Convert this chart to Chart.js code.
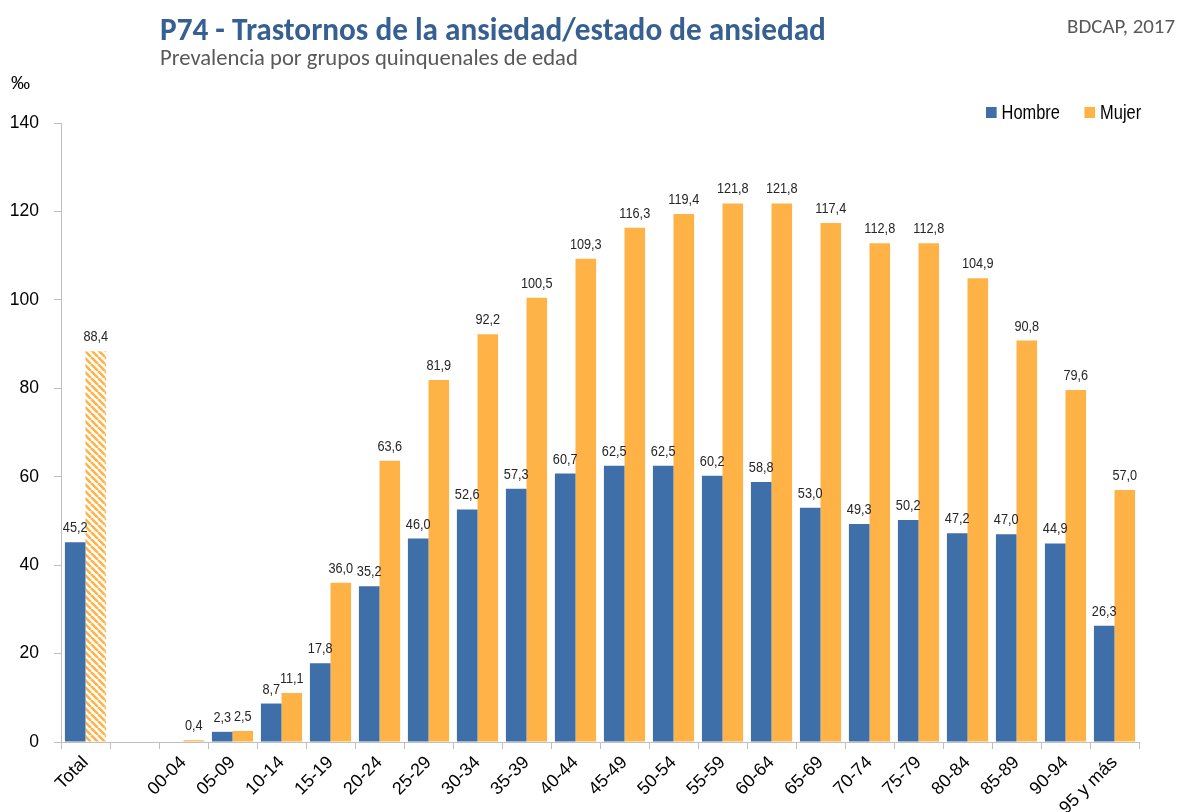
<!DOCTYPE html>
<html>
<head>
<meta charset="utf-8">
<script src="https://cdn.jsdelivr.net/npm/chart.js@4.4.1/dist/chart.umd.min.js"></script>
<style>
  html, body { margin: 0; padding: 0; background: #ffffff; }
  #wrap { position: relative; width: 1178px; height: 812px; overflow: hidden; }
  #c { position: absolute; left: 0; top: 0; }
  .txt { position: absolute; white-space: nowrap; line-height: 1; }
  #title { left: 160px; top: 14px; font-family: Carlito, Lato, "Open Sans", sans-serif; font-weight: bold; color: #376092; font-size: 30px; }
  #subtitle { left: 160px; top: 46px; font-family: Carlito, Lato, "Open Sans", sans-serif; color: #595959; font-size: 20px; }
  #source { right: 3px; top: 16px; font-family: Carlito, "Open Sans", sans-serif; color: #595959; font-size: 19px; }
  #unit { left: 11px; top: 73px; font-family: "Liberation Sans", Arial, sans-serif; color: #000; font-size: 19px; }
  #legend { position: absolute; left: 986px; top: 101px; font-family: "Liberation Sans", Arial, sans-serif; font-size: 20px; color: #000; display: flex; align-items: center; transform: scaleX(0.82); transform-origin: left center; }
  .sw { display: inline-block; width: 13px; height: 11px; margin-right: 6px; }
  .item { display: flex; align-items: center; margin-right: 30px; }
</style>
</head>
<body>
<div id="wrap">
  <canvas id="c" width="1178" height="812"></canvas>
  <div class="txt" id="title" data-w="666">P74 - Trastornos de la ansiedad/estado de ansiedad</div>
  <div class="txt" id="subtitle" data-w="418">Prevalencia por grupos quinquenales de edad</div>
  <div class="txt" id="source" data-w="108">BDCAP, 2017</div>
  <div class="txt" id="unit">‰</div>
  <div id="legend">
    <div class="item"><span class="sw" style="background:#3F6FA8"></span><span>Hombre</span></div>
    <div class="item" style="margin-right:0"><span class="sw" style="background:#FFB347"></span><span>Mujer</span></div>
  </div>
</div>
<script>
// ---- Data ----
const categories = ["Total", "", "00-04", "05-09", "10-14", "15-19", "20-24", "25-29", "30-34", "35-39", "40-44", "45-49", "50-54", "55-59", "60-64", "65-69", "70-74", "75-79", "80-84", "85-89", "90-94", "95 y más"];
const hombre = [45.2, null, null, 2.3, 8.7, 17.8, 35.2, 46.0, 52.6, 57.3, 60.7, 62.5, 62.5, 60.2, 58.8, 53.0, 49.3, 50.2, 47.2, 47.0, 44.9, 26.3];
const mujer  = [88.4, null, 0.4, 2.5, 11.1, 36.0, 63.6, 81.9, 92.2, 100.5, 109.3, 116.3, 119.4, 121.8, 121.8, 117.4, 112.8, 112.8, 104.9, 90.8, 79.6, 57.0];
const seriesNames = ["Hombre", "Mujer"];
const yTicks = { min: 0, max: 140, step: 20 };

// fit header texts to measured widths
document.querySelectorAll('[data-w]').forEach(el => {
  const target = parseFloat(el.dataset.w);
  let fs = parseFloat(getComputedStyle(el).fontSize);
  for (let i = 0; i < 4; i++) {
    const w = el.getBoundingClientRect().width;
    fs = fs * target / w;
    el.style.fontSize = fs + 'px';
  }
});

const BLUE = '#3F6FA8';
const ORANGE = '#FFB347';

function hatch() {
  const s = 7;
  const c = document.createElement('canvas');
  c.width = s; c.height = s;
  const x = c.getContext('2d');
  x.fillStyle = '#ffffff';
  x.fillRect(0, 0, s, s);
  x.strokeStyle = ORANGE;
  x.lineWidth = 2.6;
  x.beginPath();
  for (const k of [-s, 0, s]) {
    x.moveTo(k, 0);
    x.lineTo(k + s, s);
  }
  x.stroke();
  return x.createPattern(c, 'repeat');
}

const mujerColors = categories.map((c, i) => i === 0 ? hatch() : ORANGE);

const fmt = v => v.toFixed(1).replace('.', ',');

// value labels (narrow: Arial metrics compressed horizontally)
const valueLabels = {
  id: 'valueLabels',
  afterDatasetsDraw(chart) {
    const ctx = chart.ctx;
    const sx = 0.82;
    ctx.save();
    ctx.font = '15.5px "Liberation Sans", Arial, sans-serif';
    ctx.fillStyle = '#262626';
    ctx.textAlign = 'center';
    ctx.textBaseline = 'alphabetic';
    chart.data.datasets.forEach((ds, di) => {
      const meta = chart.getDatasetMeta(di);
      meta.data.forEach((bar, i) => {
        const v = ds.data[i];
        if (v === null || v === undefined) return;
        ctx.save();
        ctx.translate(bar.x, bar.y - 10);
        ctx.scale(sx, 1);
        ctx.fillText(fmt(v), 0, 0);
        ctx.restore();
      });
    });
    ctx.restore();
  }
};

const axisColor = '#BFBFBF';
const tickFont = { family: '"Liberation Sans", Arial, sans-serif' };

new Chart(document.getElementById('c'), {
  type: 'bar',
  data: {
    labels: categories,
    datasets: [
      { label: seriesNames[0], data: hombre, backgroundColor: BLUE, barPercentage: 1.0, categoryPercentage: 0.84 },
      { label: seriesNames[1], data: mujer, backgroundColor: mujerColors, barPercentage: 1.0, categoryPercentage: 0.84 }
    ]
  },
  options: {
    responsive: false,
    devicePixelRatio: 1,
    animation: false,
    layout: { padding: { top: 123, right: 39, left: 0, bottom: 0 } },
    plugins: {
      legend: { display: false },
      tooltip: { enabled: false }
    },
    scales: {
      x: {
        offset: true,
        grid: { display: true, drawOnChartArea: false, offset: true, color: axisColor, tickLength: 7, lineWidth: 1 },
        border: { color: axisColor, width: 1 },
        ticks: { color: '#000', font: { ...tickFont, size: 18 }, minRotation: 45, maxRotation: 45, autoSkip: false, padding: 3 },
        afterFit: s => { s.height = 70; }
      },
      y: {
        min: yTicks.min, max: yTicks.max,
        grid: { display: true, drawOnChartArea: false, color: axisColor, tickLength: 7, lineWidth: 1 },
        border: { color: axisColor, width: 1 },
        ticks: { stepSize: yTicks.step, color: '#000', font: { ...tickFont, size: 17.5 }, padding: 15 },
        afterFit: s => { s.width = 61; }
      }
    }
  },
  plugins: [valueLabels]
});
</script>
</body>
</html>
